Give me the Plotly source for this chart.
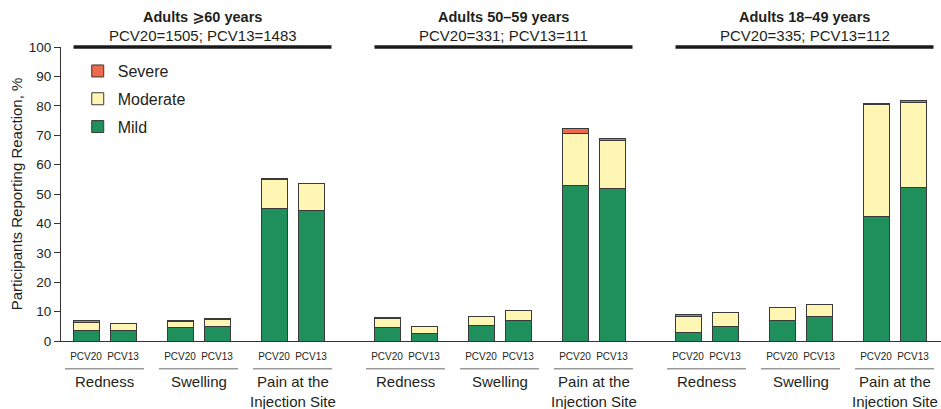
import plotly.graph_objects as go

# ---------------- data ----------------
groups = ["Adults ⩾60 years", "Adults 50–59 years", "Adults 18–49 years"]
group_n = ["PCV20=1505; PCV13=1483", "PCV20=331; PCV13=111", "PCV20=335; PCV13=112"]
reactions = ["Redness", "Swelling", "Pain at the<br>Injection Site"]
vaccines = ["PCV20", "PCV13"]

# order: group -> reaction -> vaccine (PCV20, PCV13)
mild = [3.5, 3.5, 4.5, 4.8, 45.0, 44.4,
        4.7, 2.4, 5.2, 6.9, 53.0, 51.8,
        2.8, 5.0, 6.9, 8.5, 42.3, 52.1]
moderate = [2.7, 2.4, 2.3, 2.5, 9.9, 9.1,
            2.9, 2.5, 3.3, 3.5, 17.7, 16.3,
            5.4, 4.6, 4.4, 3.8, 38.0, 28.9]
severe = [0.8, 0.1, 0.3, 0.2, 0.3, 0.2,
          0.3, 0.0, 0.0, 0.0, 1.5, 0.8,
          0.8, 0.0, 0.0, 0.0, 0.4, 0.8]

# ---------------- layout constants ----------------
X0, GROUP_STEP, CAT_STEP, PAIR_STEP = 25, 301, 94, 37
BAR_W = 26
XMAX = 880
FONT = "Liberation Sans, Arial, Helvetica, DejaVu Sans, sans-serif"
TXT = "#231f20"
C_MILD, C_MOD, C_SEV = "#1f8f5c", "#fff6b4", "#ee6a4c"
OUTLINE = "#3a3a3a"

xs, labels = [], []
for g in range(len(groups)):
    for c in range(len(reactions)):
        for v in range(len(vaccines)):
            xs.append(X0 + g * GROUP_STEP + c * CAT_STEP + v * PAIR_STEP)
            labels.append(vaccines[v])

fig = go.Figure()
for name, vals, col, rank in [("Mild", mild, C_MILD, 3), ("Moderate", moderate, C_MOD, 2),
                              ("Severe", severe, C_SEV, 1)]:
    fig.add_trace(go.Bar(
        x=xs, y=vals, name=name, width=BAR_W, legendgroup=name, legendrank=rank,
        marker=dict(color=col, line=dict(color=OUTLINE, width=1)),
    ))

annotations = []
shapes = []
for g in range(len(groups)):
    gc = X0 + g * GROUP_STEP + (CAT_STEP * (len(reactions) - 1) + PAIR_STEP) / 2
    annotations.append(dict(x=gc + 4, y=1, xref="x", yref="paper", yanchor="middle", yshift=30,
                            text="<b>" + groups[g] + "</b>", showarrow=False,
                            font=dict(size=14.5, color=TXT, family=FONT)))
    annotations.append(dict(x=gc + 4, y=1, xref="x", yref="paper", yanchor="middle", yshift=12,
                            text=group_n[g], showarrow=False,
                            font=dict(size=15, color=TXT, family=FONT)))
    shapes.append(dict(type="line", xref="x", yref="paper", x0=gc + 4 - 129, x1=gc + 4 + 129,
                       y0=1, y1=1, line=dict(color="#1a1a1a", width=3.5)))
    for c in range(len(reactions)):
        cc = X0 + g * GROUP_STEP + c * CAT_STEP + PAIR_STEP / 2
        shapes.append(dict(type="line", xref="x", yref="paper", x0=cc - 39.5, x1=cc + 39.5,
                           y0=-0.094, y1=-0.094, line=dict(color="#999999", width=1.5)))
        annotations.append(dict(x=cc, y=-0.094, xref="x", yref="paper", yanchor="top", yshift=-2,
                                text=reactions[c], showarrow=False,
                                font=dict(size=15, color=TXT, family=FONT)))

fig.update_layout(
    width=941, height=409,
    margin=dict(l=61, r=0, t=47, b=68),
    barmode="stack",
    plot_bgcolor="white", paper_bgcolor="white",
    font=dict(family=FONT, color=TXT),
    showlegend=True,
    legend=dict(x=0.019, y=0.976, xanchor="left", yanchor="top",
                traceorder="grouped", tracegroupgap=4,
                font=dict(size=16, color=TXT, family=FONT),
                bgcolor="rgba(0,0,0,0)"),
    xaxis=dict(range=[0, XMAX], tickmode="array", tickvals=xs, ticktext=labels,
               showline=True, linecolor="#333333", linewidth=1,
               ticks="outside", ticklen=6, tickcolor="rgba(0,0,0,0)",
               tickfont=dict(size=10, color=TXT, family=FONT),
               showgrid=False, zeroline=False, fixedrange=True),
    yaxis=dict(range=[0, 100], dtick=10, showline=True, linecolor="#333333", linewidth=1,
               ticks="outside", ticklen=6, tickcolor="#333333",
               tickfont=dict(size=13.5, color=TXT, family=FONT),
               title=dict(text="Participants Reporting Reaction, %",
                          font=dict(size=15, color=TXT, family=FONT), standoff=2),
               showgrid=False, zeroline=False, fixedrange=True),
    annotations=annotations,
    shapes=shapes,
)

fig.write_html("out.html", config={"displayModeBar": False},
               post_script="document.body.style.margin='0';")
